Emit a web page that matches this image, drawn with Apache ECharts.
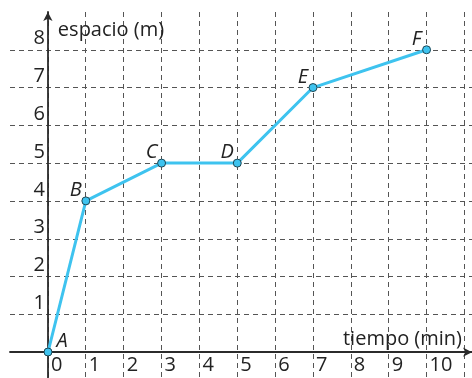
<!DOCTYPE html>
<html>
<head>
<meta charset="utf-8">
<script src="https://cdn.jsdelivr.net/npm/echarts@6/dist/echarts.min.js"></script>
<style>
  html, body { margin: 0; padding: 0; background: #fff; }
  #main { width: 472px; height: 378px; }
</style>
</head>
<body>
<div id="main"></div>
<script>
var dom = document.getElementById('main');
var myChart = echarts.init(dom, null, { renderer: 'canvas' });

// data
const tiempo = [0, 1, 3, 5, 7, 10];
const espacio = [0, 4, 5, 5, 7, 8];
const puntos = ['A', 'B', 'C', 'D', 'E', 'F'];
const xTicks = [0, 1, 2, 3, 4, 5, 6, 7, 8, 9, 10];
const yTicks = [1, 2, 3, 4, 5, 6, 7, 8];

const lineColor = '#3ec3ef';
const axisColor = '#2b2b2b';
const gridColor = '#555';
const textColor = '#222';
const font = 'Open Sans';
const fontSize = 20;

var seriesData = tiempo.map(function (t, i) {
    // A sits to the right of its point, the others to the upper left
    var off = i === 0 ? [14, 4] : [-10, 4];
    return {
        value: [t, espacio[i]],
        label: { offset: off }
    };
});

var dashed = { color: gridColor, type: [5, 4], width: 1 };
var axisLineStyle = { color: axisColor, width: 1.8 };

var option = {
    animation: false,
    grid: [
        // main plot: axes at x=0 / y=0, carries labels and series
        { left: 48, top: 12, width: 424, height: 340, outerBoundsMode: 'none', containLabel: false },
        // wider back grid: dashed lines and axis lines run past the origin
        { left: 10, top: 12, width: 462, height: 378, outerBoundsMode: 'none', containLabel: false }
    ],
    xAxis: [
        {
            type: 'value',
            gridIndex: 0,
            min: 0,
            max: 11.2,
            interval: 1,
            axisLine: { show: false },
            axisTick: { show: false },
            splitLine: { show: false },
            axisLabel: {
                color: textColor,
                fontFamily: font,
                fontSize: fontSize,
                align: 'left',
                margin: 3,
                padding: [0, 0, 0, 3],
                formatter: function (v) {
                    return xTicks.indexOf(v) >= 0 ? String(v) : '';
                }
            }
        },
        {
            type: 'value',
            gridIndex: 1,
            min: -1,
            max: 11.2,
            interval: 1,
            axisLine: {
                onZero: true,
                symbol: ['none', 'arrow'],
                symbolSize: [7, 9],
                lineStyle: axisLineStyle
            },
            axisTick: { show: false },
            axisLabel: { show: false },
            splitLine: { show: true, showMinLine: false, showMaxLine: false, lineStyle: dashed },
            name: 'tiempo (min)',
            nameLocation: 'end',
            nameGap: -10,
            nameTextStyle: {
                color: textColor,
                fontFamily: font,
                fontSize: fontSize,
                align: 'right',
                verticalAlign: 'bottom',
                padding: [0, 0, 3, 0]
            }
        }
    ],
    yAxis: [
        {
            type: 'value',
            gridIndex: 0,
            min: 0,
            max: 9,
            interval: 1,
            axisLine: { show: false },
            axisTick: { show: false },
            splitLine: { show: false },
            axisLabel: {
                color: textColor,
                fontFamily: font,
                fontSize: fontSize,
                verticalAlign: 'bottom',
                margin: 3,
                padding: [0, 0, 1, 0],
                formatter: function (v) {
                    return yTicks.indexOf(v) >= 0 ? String(v) : '';
                }
            }
        },
        {
            type: 'value',
            gridIndex: 1,
            min: -1,
            max: 9,
            interval: 1,
            axisLine: {
                onZero: true,
                symbol: ['none', 'arrow'],
                symbolSize: [7, 9],
                lineStyle: axisLineStyle
            },
            axisTick: { show: false },
            axisLabel: { show: false },
            splitLine: { show: true, showMinLine: false, showMaxLine: false, lineStyle: dashed },
            name: 'espacio (m)',
            nameLocation: 'end',
            nameGap: -18,
            nameTextStyle: {
                color: textColor,
                fontFamily: font,
                fontSize: fontSize,
                align: 'left',
                verticalAlign: 'middle',
                padding: [0, 0, 0, 10]
            }
        }
    ],
    series: [
        {
            type: 'line',
            xAxisIndex: 0,
            yAxisIndex: 0,
            data: seriesData,
            symbol: 'circle',
            symbolSize: 8,
            lineStyle: { color: lineColor, width: 3 },
            itemStyle: { color: lineColor, borderColor: '#1d4654', borderWidth: 1 },
            label: {
                show: true,
                position: 'top',
                distance: 0,
                color: textColor,
                fontFamily: font,
                fontSize: fontSize,
                fontStyle: 'italic',
                formatter: function (p) {
                    return puntos[p.dataIndex];
                }
            },
            z: 5
        }
    ]
};

myChart.setOption(option);
window.addEventListener('resize', myChart.resize);
</script>
</body>
</html>
